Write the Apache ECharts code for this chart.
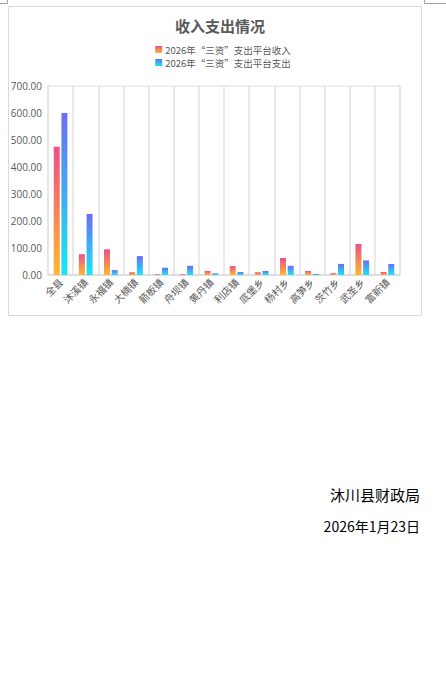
<!DOCTYPE html>
<html>
<head>
<meta charset="utf-8">
<script src="https://cdn.jsdelivr.net/npm/echarts@6/dist/echarts.min.js"></script>
<style>
html,body{margin:0;padding:0;background:#fff;}
#chart{width:446px;height:694px;}
</style>
</head>
<body>
<div id="chart"></div>
<script>
const categories = ['全县','沐溪镇','永福镇','大楠镇','箭板镇','舟坝镇','黄丹镇','利店镇','底堡乡','杨村乡','高笋乡','茨竹乡','武圣乡','富新镇'];
const incomeValues = [475, 77, 95, 10, 3, 3, 15, 33, 10, 63, 15, 7, 115, 11];
const expenseValues = [600, 226, 18, 70, 27, 34, 6, 11, 15, 34, 4, 41, 54, 41];
const seriesNames = ['2026年“三资”支出平台收入', '2026年“三资”支出平台支出'];
const yTicks = { min: 0, max: 700, interval: 100 };
const titleText = '收入支出情况';
const footerOrg = '沐川县财政局';
const footerDate = '2026年1月23日';

const FONT = '"Noto Sans CJK SC", "Noto Sans", sans-serif';
const grad = (top, bottom) => new echarts.graphic.LinearGradient(0, 0, 0, 1, [
  { offset: 0, color: top }, { offset: 1, color: bottom }
]);
const incomeColor = grad('#ee4f8b', '#fbb92b');
const expenseColor = grad('#6b6ef5', '#17e9ef');

const chart = echarts.init(document.getElementById('chart'), null, { renderer: 'svg' });
chart.setOption({
  backgroundColor: '#fff',
  animation: false,
  textStyle: { fontFamily: FONT },
  title: {
    text: titleText, left: 215, top: 13, textAlign: 'center',
    textStyle: { fontSize: 15, fontWeight: 'bold', color: '#595959', fontFamily: FONT }
  },
  legend: {
    orient: 'vertical', left: 'center', top: 44, padding: 0,
    itemWidth: 7, itemHeight: 7, itemGap: 2,
    icon: 'rect',
    textStyle: { fontSize: 9.5, lineHeight: 11, color: '#595959', fontFamily: FONT, padding: [0, 0, 0, -2] },
    data: [
      { name: seriesNames[0], itemStyle: { color: incomeColor } },
      { name: seriesNames[1], itemStyle: { color: expenseColor } }
    ]
  },
  grid: {
    left: 48, right: 46, top: 86, bottom: 419,
    show: true, borderColor: '#dedede', borderWidth: 1, containLabel: false
  },
  xAxis: {
    type: 'category', data: categories,
    axisLine: { show: true, lineStyle: { color: '#d9d9d9', width: 1.5 } },
    axisTick: { show: false },
    splitLine: { show: true, lineStyle: { color: '#e2e2e2', width: 1.5 } },
    axisLabel: { rotate: 45, fontSize: 10, color: '#595959', margin: 5, interval: 0, fontFamily: FONT }
  },
  yAxis: {
    type: 'value', min: yTicks.min, max: yTicks.max, interval: yTicks.interval,
    axisLine: { show: false }, axisTick: { show: false },
    splitLine: { show: false },
    axisLabel: { fontSize: 10, color: '#595959', margin: 6, fontFamily: 'Open Sans, "Noto Sans", sans-serif',
      formatter: v => v.toFixed(2) }
  },
  series: [
    { name: seriesNames[0], type: 'bar', data: incomeValues, barWidth: 6, barGap: '28%',
      itemStyle: { color: incomeColor } },
    { name: seriesNames[1], type: 'bar', data: expenseValues, barWidth: 6,
      itemStyle: { color: expenseColor } }
  ],
  graphic: [
    { type: 'rect', shape: { x: 8.5, y: 6.5, width: 413, height: 309 }, silent: true,
      style: { fill: 'none', stroke: '#d9d9d9', lineWidth: 1 } },
    { type: 'polyline', shape: { points: [[0, 3.5], [7.5, 3.5], [7.5, 0]] }, silent: true,
      style: { fill: 'none', stroke: '#a0a0a0', lineWidth: 1 } },
    { type: 'polyline', shape: { points: [[446, 3.5], [424.5, 3.5], [424.5, 0]] }, silent: true,
      style: { fill: 'none', stroke: '#a0a0a0', lineWidth: 1 } },
    { type: 'text', right: 26, top: 487,
      style: { text: footerOrg, fontSize: 15, fill: '#000', fontFamily: FONT } },
    { type: 'text', right: 26, top: 519,
      style: { text: footerDate, fontSize: 14, fill: '#000', fontFamily: FONT } }
  ]
});
</script>
</body>
</html>
